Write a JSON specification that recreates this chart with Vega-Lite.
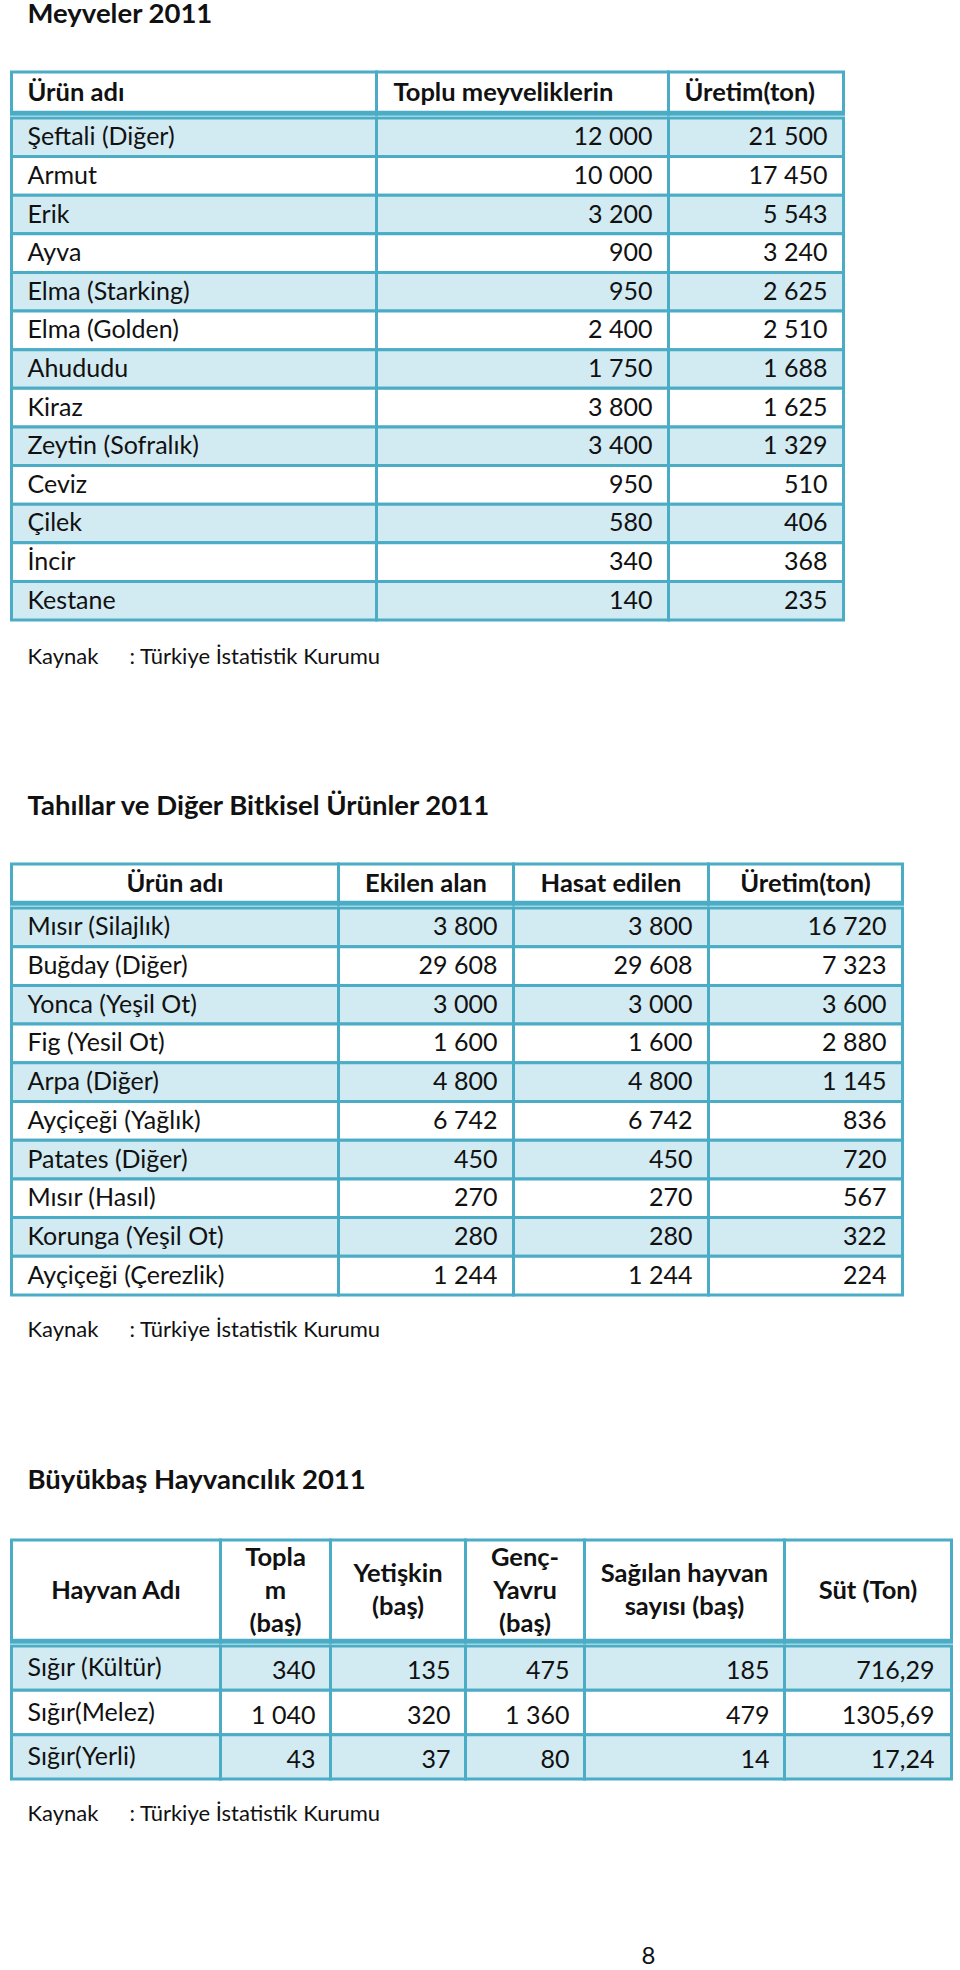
{
  "$schema": "https://vega.github.io/schema/vega-lite/v6.json",
  "padding": {"left": 9.5, "top": 0, "right": 0, "bottom": 0},
  "background": "white",
  "spacing": 0,
  "config": {
    "view": {"stroke": null},
    "text": {"font": "Lato", "fontSize": 25, "color": "#111111", "baseline": "middle"},
    "locale": {"number": {"decimal": ",", "thousands": " ", "grouping": [3], "currency": ["", ""]}}
  },
  "datasets": {
    "meyve": [
      {"no": 1, "urun": "Şeftali (Diğer)", "toplu": 12000, "uretim": 21500},
      {"no": 2, "urun": "Armut", "toplu": 10000, "uretim": 17450},
      {"no": 3, "urun": "Erik", "toplu": 3200, "uretim": 5543},
      {"no": 4, "urun": "Ayva", "toplu": 900, "uretim": 3240},
      {"no": 5, "urun": "Elma (Starking)", "toplu": 950, "uretim": 2625},
      {"no": 6, "urun": "Elma (Golden)", "toplu": 2400, "uretim": 2510},
      {"no": 7, "urun": "Ahududu", "toplu": 1750, "uretim": 1688},
      {"no": 8, "urun": "Kiraz", "toplu": 3800, "uretim": 1625},
      {"no": 9, "urun": "Zeytin (Sofralık)", "toplu": 3400, "uretim": 1329},
      {"no": 10, "urun": "Ceviz", "toplu": 950, "uretim": 510},
      {"no": 11, "urun": "Çilek", "toplu": 580, "uretim": 406},
      {"no": 12, "urun": "İncir", "toplu": 340, "uretim": 368},
      {"no": 13, "urun": "Kestane", "toplu": 140, "uretim": 235}
    ],
    "tahil": [
      {"no": 1, "urun": "Mısır (Silajlık)", "ekilen": 3800, "hasat": 3800, "uretim": 16720},
      {"no": 2, "urun": "Buğday (Diğer)", "ekilen": 29608, "hasat": 29608, "uretim": 7323},
      {"no": 3, "urun": "Yonca (Yeşil Ot)", "ekilen": 3000, "hasat": 3000, "uretim": 3600},
      {"no": 4, "urun": "Fig (Yesil Ot)", "ekilen": 1600, "hasat": 1600, "uretim": 2880},
      {"no": 5, "urun": "Arpa (Diğer)", "ekilen": 4800, "hasat": 4800, "uretim": 1145},
      {"no": 6, "urun": "Ayçiçeği (Yağlık)", "ekilen": 6742, "hasat": 6742, "uretim": 836},
      {"no": 7, "urun": "Patates (Diğer)", "ekilen": 450, "hasat": 450, "uretim": 720},
      {"no": 8, "urun": "Mısır (Hasıl)", "ekilen": 270, "hasat": 270, "uretim": 567},
      {"no": 9, "urun": "Korunga (Yeşil Ot)", "ekilen": 280, "hasat": 280, "uretim": 322},
      {"no": 10, "urun": "Ayçiçeği (Çerezlik)", "ekilen": 1244, "hasat": 1244, "uretim": 224}
    ],
    "hayvan": [
      {"no": 1, "ad": "Sığır (Kültür)", "toplam": 340, "yetiskin": 135, "genc": 475, "sagilan": 185, "sut": 716.29},
      {"no": 2, "ad": "Sığır(Melez)", "toplam": 1040, "yetiskin": 320, "genc": 1360, "sagilan": 479, "sut": 1305.69},
      {"no": 3, "ad": "Sığır(Yerli)", "toplam": 43, "yetiskin": 37, "genc": 80, "sagilan": 14, "sut": 17.24}
    ]
  },
  "vconcat": [
    {"width": 940, "height": 64.2, "data": {"values": [{"t": "Meyveler 2011"}]},
     "layer": [
       {"mark": {"type": "rect", "x": 0, "x2": "width", "y": 0, "y2": "height", "fill": "transparent", "stroke": "transparent", "strokeWidth": 3}, "encoding": {}},
       {"mark": {"type": "text", "align": "left", "x": 0, "dx": 16, "baseline": "alphabetic", "dy": -13.6, "fontSize": 27.5, "fontWeight": "bold"}, "encoding": {"text": {"field": "t"}}}]},
    {"hconcat": [
      {"width": 365, "height": 42.2, "data": {"values": [{"h": "Ürün adı"}]}, "layer": [
        {"mark": {"type": "rect", "x": 0, "x2": "width", "y": 0, "y2": "height", "fill": "#FFFFFF", "stroke": "#4BACC6", "strokeWidth": 3}, "encoding": {}},
        {"mark": {"type": "rect", "x": 0, "x2": "width", "y": 38.7, "y2": "height", "fill": "#4BACC6"}, "encoding": {}},
        {"mark": {"type": "text", "align": "left", "x": 0, "dx": 16, "dy": -0.5, "fontWeight": "bold", "fontSize": 25.5}, "encoding": {"text": {"field": "h"}}}]},
      {"width": 292, "height": 42.2, "data": {"values": [{"h": "Toplu meyveliklerin"}]}, "layer": [
        {"mark": {"type": "rect", "x": 0, "x2": "width", "y": 0, "y2": "height", "fill": "#FFFFFF", "stroke": "#4BACC6", "strokeWidth": 3}, "encoding": {}},
        {"mark": {"type": "rect", "x": 0, "x2": "width", "y": 38.7, "y2": "height", "fill": "#4BACC6"}, "encoding": {}},
        {"mark": {"type": "text", "align": "left", "x": 0, "dx": 17, "dy": -0.5, "fontWeight": "bold", "fontSize": 25.5}, "encoding": {"text": {"field": "h"}}}]},
      {"width": 175, "height": 42.2, "data": {"values": [{"h": "Üretim(ton)"}]}, "layer": [
        {"mark": {"type": "rect", "x": 0, "x2": "width", "y": 0, "y2": "height", "fill": "#FFFFFF", "stroke": "#4BACC6", "strokeWidth": 3}, "encoding": {}},
        {"mark": {"type": "rect", "x": 0, "x2": "width", "y": 38.7, "y2": "height", "fill": "#4BACC6"}, "encoding": {}},
        {"mark": {"type": "text", "align": "left", "x": 0, "dx": 16, "dy": -0.5, "fontWeight": "bold", "fontSize": 25.5}, "encoding": {"text": {"field": "h"}}}]}
    ], "spacing": 0, "bounds": "flush"},
    {"hconcat": [
      {"width": 365, "height": 502, "data": {"name": "meyve"},
       "encoding": {"y": {"field": "no", "type": "ordinal", "axis": null, "scale": {"paddingInner": 0, "paddingOuter": 0}}},
       "layer": [
        {"mark": {"type": "rect", "stroke": "#4BACC6", "strokeWidth": 3}, "encoding": {"fill": {"condition": {"test": "datum.no % 2 === 1", "value": "#D2EAF1"}, "value": "#FFFFFF"}}},
        {"mark": {"type": "text", "align": "left", "x": 0, "dx": 16}, "encoding": {"text": {"field": "urun"}}}]},
      {"width": 292, "height": 502, "data": {"name": "meyve"},
       "encoding": {"y": {"field": "no", "type": "ordinal", "axis": null, "scale": {"paddingInner": 0, "paddingOuter": 0}}},
       "layer": [
        {"mark": {"type": "rect", "stroke": "#4BACC6", "strokeWidth": 3}, "encoding": {"fill": {"condition": {"test": "datum.no % 2 === 1", "value": "#D2EAF1"}, "value": "#FFFFFF"}}},
        {"mark": {"type": "text", "align": "right", "x": "width", "dx": -16}, "encoding": {"text": {"field": "toplu", "type": "quantitative", "format": ",d"}}}]},
      {"width": 175, "height": 502, "data": {"name": "meyve"},
       "encoding": {"y": {"field": "no", "type": "ordinal", "axis": null, "scale": {"paddingInner": 0, "paddingOuter": 0}}},
       "layer": [
        {"mark": {"type": "rect", "stroke": "#4BACC6", "strokeWidth": 3}, "encoding": {"fill": {"condition": {"test": "datum.no % 2 === 1", "value": "#D2EAF1"}, "value": "#FFFFFF"}}},
        {"mark": {"type": "text", "align": "right", "x": "width", "dx": -16}, "encoding": {"text": {"field": "uretim", "type": "quantitative", "format": ",d"}}}]}
    ], "spacing": 0, "bounds": "flush"},
    {"width": 940, "height": 68.4, "data": {"values": [{"k": "Kaynak", "s": ": Türkiye İstatistik Kurumu"}]},
     "layer": [
       {"mark": {"type": "rect", "x": 0, "x2": "width", "y": 0, "y2": "height", "fill": "transparent", "stroke": "transparent", "strokeWidth": 3}, "encoding": {}},
       {"mark": {"type": "text", "align": "left", "x": 0, "dx": 16, "dy": -1, "fontSize": 22}, "encoding": {"text": {"field": "k"}}},
       {"mark": {"type": "text", "align": "left", "x": 0, "dx": 118, "dy": -1, "fontSize": 22}, "encoding": {"text": {"field": "s"}}}]},
    {"width": 940, "height": 164.2, "data": {"values": [{"t": "Tahıllar ve Diğer Bitkisel Ürünler 2011"}]},
     "layer": [
       {"mark": {"type": "rect", "x": 0, "x2": "width", "y": 0, "y2": "height", "fill": "transparent", "stroke": "transparent", "strokeWidth": 3}, "encoding": {}},
       {"mark": {"type": "text", "align": "left", "x": 0, "dx": 16, "baseline": "alphabetic", "dy": 36.5, "fontSize": 27.5, "fontWeight": "bold"}, "encoding": {"text": {"field": "t"}}}]},
    {"hconcat": [
      {"width": 327, "height": 40.2, "data": {"values": [{"h": "Ürün adı"}]}, "layer": [
        {"mark": {"type": "rect", "x": 0, "x2": "width", "y": 0, "y2": "height", "fill": "#FFFFFF", "stroke": "#4BACC6", "strokeWidth": 3}, "encoding": {}},
        {"mark": {"type": "rect", "x": 0, "x2": "width", "y": 36.7, "y2": "height", "fill": "#4BACC6"}, "encoding": {}},
        {"mark": {"type": "text", "align": "center", "dy": -0.5, "fontWeight": "bold", "fontSize": 25.5}, "encoding": {"text": {"field": "h"}}}]},
      {"width": 175, "height": 40.2, "data": {"values": [{"h": "Ekilen alan"}]}, "layer": [
        {"mark": {"type": "rect", "x": 0, "x2": "width", "y": 0, "y2": "height", "fill": "#FFFFFF", "stroke": "#4BACC6", "strokeWidth": 3}, "encoding": {}},
        {"mark": {"type": "rect", "x": 0, "x2": "width", "y": 36.7, "y2": "height", "fill": "#4BACC6"}, "encoding": {}},
        {"mark": {"type": "text", "align": "center", "dy": -0.5, "fontWeight": "bold", "fontSize": 25.5}, "encoding": {"text": {"field": "h"}}}]},
      {"width": 195, "height": 40.2, "data": {"values": [{"h": "Hasat edilen"}]}, "layer": [
        {"mark": {"type": "rect", "x": 0, "x2": "width", "y": 0, "y2": "height", "fill": "#FFFFFF", "stroke": "#4BACC6", "strokeWidth": 3}, "encoding": {}},
        {"mark": {"type": "rect", "x": 0, "x2": "width", "y": 36.7, "y2": "height", "fill": "#4BACC6"}, "encoding": {}},
        {"mark": {"type": "text", "align": "center", "dy": -0.5, "fontWeight": "bold", "fontSize": 25.5}, "encoding": {"text": {"field": "h"}}}]},
      {"width": 194, "height": 40.2, "data": {"values": [{"h": "Üretim(ton)"}]}, "layer": [
        {"mark": {"type": "rect", "x": 0, "x2": "width", "y": 0, "y2": "height", "fill": "#FFFFFF", "stroke": "#4BACC6", "strokeWidth": 3}, "encoding": {}},
        {"mark": {"type": "rect", "x": 0, "x2": "width", "y": 36.7, "y2": "height", "fill": "#4BACC6"}, "encoding": {}},
        {"mark": {"type": "text", "align": "center", "dy": -0.5, "fontWeight": "bold", "fontSize": 25.5}, "encoding": {"text": {"field": "h"}}}]}
    ], "spacing": 0, "bounds": "flush"},
    {"hconcat": [
      {"width": 327, "height": 387, "data": {"name": "tahil"},
       "encoding": {"y": {"field": "no", "type": "ordinal", "axis": null, "scale": {"paddingInner": 0, "paddingOuter": 0}}},
       "layer": [
        {"mark": {"type": "rect", "stroke": "#4BACC6", "strokeWidth": 3}, "encoding": {"fill": {"condition": {"test": "datum.no % 2 === 1", "value": "#D2EAF1"}, "value": "#FFFFFF"}}},
        {"mark": {"type": "text", "align": "left", "x": 0, "dx": 16}, "encoding": {"text": {"field": "urun"}}}]},
      {"width": 175, "height": 387, "data": {"name": "tahil"},
       "encoding": {"y": {"field": "no", "type": "ordinal", "axis": null, "scale": {"paddingInner": 0, "paddingOuter": 0}}},
       "layer": [
        {"mark": {"type": "rect", "stroke": "#4BACC6", "strokeWidth": 3}, "encoding": {"fill": {"condition": {"test": "datum.no % 2 === 1", "value": "#D2EAF1"}, "value": "#FFFFFF"}}},
        {"mark": {"type": "text", "align": "right", "x": "width", "dx": -16}, "encoding": {"text": {"field": "ekilen", "type": "quantitative", "format": ",d"}}}]},
      {"width": 195, "height": 387, "data": {"name": "tahil"},
       "encoding": {"y": {"field": "no", "type": "ordinal", "axis": null, "scale": {"paddingInner": 0, "paddingOuter": 0}}},
       "layer": [
        {"mark": {"type": "rect", "stroke": "#4BACC6", "strokeWidth": 3}, "encoding": {"fill": {"condition": {"test": "datum.no % 2 === 1", "value": "#D2EAF1"}, "value": "#FFFFFF"}}},
        {"mark": {"type": "text", "align": "right", "x": "width", "dx": -16}, "encoding": {"text": {"field": "hasat", "type": "quantitative", "format": ",d"}}}]},
      {"width": 194, "height": 387, "data": {"name": "tahil"},
       "encoding": {"y": {"field": "no", "type": "ordinal", "axis": null, "scale": {"paddingInner": 0, "paddingOuter": 0}}},
       "layer": [
        {"mark": {"type": "rect", "stroke": "#4BACC6", "strokeWidth": 3}, "encoding": {"fill": {"condition": {"test": "datum.no % 2 === 1", "value": "#D2EAF1"}, "value": "#FFFFFF"}}},
        {"mark": {"type": "text", "align": "right", "x": "width", "dx": -16}, "encoding": {"text": {"field": "uretim", "type": "quantitative", "format": ",d"}}}]}
    ], "spacing": 0, "bounds": "flush"},
    {"width": 940, "height": 64.4, "data": {"values": [{"k": "Kaynak", "s": ": Türkiye İstatistik Kurumu"}]},
     "layer": [
       {"mark": {"type": "rect", "x": 0, "x2": "width", "y": 0, "y2": "height", "fill": "transparent", "stroke": "transparent", "strokeWidth": 3}, "encoding": {}},
       {"mark": {"type": "text", "align": "left", "x": 0, "dx": 16, "dy": -1, "fontSize": 22}, "encoding": {"text": {"field": "k"}}},
       {"mark": {"type": "text", "align": "left", "x": 0, "dx": 118, "dy": -1, "fontSize": 22}, "encoding": {"text": {"field": "s"}}}]},
    {"width": 940, "height": 169.2, "data": {"values": [{"t": "Büyükbaş Hayvancılık 2011"}]},
     "layer": [
       {"mark": {"type": "rect", "x": 0, "x2": "width", "y": 0, "y2": "height", "fill": "transparent", "stroke": "transparent", "strokeWidth": 3}, "encoding": {}},
       {"mark": {"type": "text", "align": "left", "x": 0, "dx": 16, "baseline": "alphabetic", "dy": 37, "fontSize": 27.5, "fontWeight": "bold"}, "encoding": {"text": {"field": "t"}}}]},
    {"hconcat": [
      {"width": 209, "height": 102.2, "data": {"values": [{"h": "Hayvan Adı"}]}, "layer": [
        {"mark": {"type": "rect", "x": 0, "x2": "width", "y": 0, "y2": "height", "fill": "#FFFFFF", "stroke": "#4BACC6", "strokeWidth": 3}, "encoding": {}},
        {"mark": {"type": "rect", "x": 0, "x2": "width", "y": 98.7, "y2": "height", "fill": "#4BACC6"}, "encoding": {}},
        {"mark": {"type": "text", "align": "center", "fontWeight": "bold", "fontSize": 25.5, "dy": -0.5}, "encoding": {"text": {"field": "h"}}}]},
      {"width": 110, "height": 102.2, "data": {"values": [{"h": "Topla\nm\n(baş)"}]}, "layer": [
        {"mark": {"type": "rect", "x": 0, "x2": "width", "y": 0, "y2": "height", "fill": "#FFFFFF", "stroke": "#4BACC6", "strokeWidth": 3}, "encoding": {}},
        {"mark": {"type": "rect", "x": 0, "x2": "width", "y": 98.7, "y2": "height", "fill": "#4BACC6"}, "encoding": {}},
        {"mark": {"type": "text", "align": "center", "fontWeight": "bold", "fontSize": 25.5, "lineBreak": "\n", "lineHeight": 33, "dy": -33.5}, "encoding": {"text": {"field": "h"}}}]},
      {"width": 135, "height": 102.2, "data": {"values": [{"h": "Yetişkin\n(baş)"}]}, "layer": [
        {"mark": {"type": "rect", "x": 0, "x2": "width", "y": 0, "y2": "height", "fill": "#FFFFFF", "stroke": "#4BACC6", "strokeWidth": 3}, "encoding": {}},
        {"mark": {"type": "rect", "x": 0, "x2": "width", "y": 98.7, "y2": "height", "fill": "#4BACC6"}, "encoding": {}},
        {"mark": {"type": "text", "align": "center", "fontWeight": "bold", "fontSize": 25.5, "lineBreak": "\n", "lineHeight": 33, "dy": -17}, "encoding": {"text": {"field": "h"}}}]},
      {"width": 119, "height": 102.2, "data": {"values": [{"h": "Genç-\nYavru\n(baş)"}]}, "layer": [
        {"mark": {"type": "rect", "x": 0, "x2": "width", "y": 0, "y2": "height", "fill": "#FFFFFF", "stroke": "#4BACC6", "strokeWidth": 3}, "encoding": {}},
        {"mark": {"type": "rect", "x": 0, "x2": "width", "y": 98.7, "y2": "height", "fill": "#4BACC6"}, "encoding": {}},
        {"mark": {"type": "text", "align": "center", "fontWeight": "bold", "fontSize": 25.5, "lineBreak": "\n", "lineHeight": 33, "dy": -33.5}, "encoding": {"text": {"field": "h"}}}]},
      {"width": 200, "height": 102.2, "data": {"values": [{"h": "Sağılan hayvan\nsayısı (baş)"}]}, "layer": [
        {"mark": {"type": "rect", "x": 0, "x2": "width", "y": 0, "y2": "height", "fill": "#FFFFFF", "stroke": "#4BACC6", "strokeWidth": 3}, "encoding": {}},
        {"mark": {"type": "rect", "x": 0, "x2": "width", "y": 98.7, "y2": "height", "fill": "#4BACC6"}, "encoding": {}},
        {"mark": {"type": "text", "align": "center", "fontWeight": "bold", "fontSize": 25.5, "lineBreak": "\n", "lineHeight": 33, "dy": -17}, "encoding": {"text": {"field": "h"}}}]},
      {"width": 167, "height": 102.2, "data": {"values": [{"h": "Süt (Ton)"}]}, "layer": [
        {"mark": {"type": "rect", "x": 0, "x2": "width", "y": 0, "y2": "height", "fill": "#FFFFFF", "stroke": "#4BACC6", "strokeWidth": 3}, "encoding": {}},
        {"mark": {"type": "rect", "x": 0, "x2": "width", "y": 98.7, "y2": "height", "fill": "#4BACC6"}, "encoding": {}},
        {"mark": {"type": "text", "align": "center", "fontWeight": "bold", "fontSize": 25.5, "dy": -0.5}, "encoding": {"text": {"field": "h"}}}]}
    ], "spacing": 0, "bounds": "flush"},
    {"hconcat": [
      {"width": 209, "height": 133, "data": {"name": "hayvan"},
       "encoding": {"y": {"field": "no", "type": "ordinal", "axis": null, "scale": {"paddingInner": 0, "paddingOuter": 0}}},
       "layer": [
        {"mark": {"type": "rect", "stroke": "#4BACC6", "strokeWidth": 3}, "encoding": {"fill": {"condition": {"test": "datum.no % 2 === 1", "value": "#D2EAF1"}, "value": "#FFFFFF"}}},
        {"mark": {"type": "text", "align": "left", "x": 0, "dx": 16}, "encoding": {"text": {"field": "ad"}}}]},
      {"width": 110, "height": 133, "data": {"name": "hayvan"},
       "encoding": {"y": {"field": "no", "type": "ordinal", "axis": null, "scale": {"paddingInner": 0, "paddingOuter": 0}}},
       "layer": [
        {"mark": {"type": "rect", "stroke": "#4BACC6", "strokeWidth": 3}, "encoding": {"fill": {"condition": {"test": "datum.no % 2 === 1", "value": "#D2EAF1"}, "value": "#FFFFFF"}}},
        {"mark": {"type": "text", "align": "right", "x": "width", "dx": -15, "dy": 3}, "encoding": {"text": {"field": "toplam", "type": "quantitative", "format": ",d"}}}]},
      {"width": 135, "height": 133, "data": {"name": "hayvan"},
       "encoding": {"y": {"field": "no", "type": "ordinal", "axis": null, "scale": {"paddingInner": 0, "paddingOuter": 0}}},
       "layer": [
        {"mark": {"type": "rect", "stroke": "#4BACC6", "strokeWidth": 3}, "encoding": {"fill": {"condition": {"test": "datum.no % 2 === 1", "value": "#D2EAF1"}, "value": "#FFFFFF"}}},
        {"mark": {"type": "text", "align": "right", "x": "width", "dx": -15, "dy": 3}, "encoding": {"text": {"field": "yetiskin", "type": "quantitative", "format": ",d"}}}]},
      {"width": 119, "height": 133, "data": {"name": "hayvan"},
       "encoding": {"y": {"field": "no", "type": "ordinal", "axis": null, "scale": {"paddingInner": 0, "paddingOuter": 0}}},
       "layer": [
        {"mark": {"type": "rect", "stroke": "#4BACC6", "strokeWidth": 3}, "encoding": {"fill": {"condition": {"test": "datum.no % 2 === 1", "value": "#D2EAF1"}, "value": "#FFFFFF"}}},
        {"mark": {"type": "text", "align": "right", "x": "width", "dx": -15, "dy": 3}, "encoding": {"text": {"field": "genc", "type": "quantitative", "format": ",d"}}}]},
      {"width": 200, "height": 133, "data": {"name": "hayvan"},
       "encoding": {"y": {"field": "no", "type": "ordinal", "axis": null, "scale": {"paddingInner": 0, "paddingOuter": 0}}},
       "layer": [
        {"mark": {"type": "rect", "stroke": "#4BACC6", "strokeWidth": 3}, "encoding": {"fill": {"condition": {"test": "datum.no % 2 === 1", "value": "#D2EAF1"}, "value": "#FFFFFF"}}},
        {"mark": {"type": "text", "align": "right", "x": "width", "dx": -15, "dy": 3}, "encoding": {"text": {"field": "sagilan", "type": "quantitative", "format": ",d"}}}]},
      {"width": 167, "height": 133, "data": {"name": "hayvan"},
       "encoding": {"y": {"field": "no", "type": "ordinal", "axis": null, "scale": {"paddingInner": 0, "paddingOuter": 0}}},
       "layer": [
        {"mark": {"type": "rect", "stroke": "#4BACC6", "strokeWidth": 3}, "encoding": {"fill": {"condition": {"test": "datum.no % 2 === 1", "value": "#D2EAF1"}, "value": "#FFFFFF"}}},
        {"mark": {"type": "text", "align": "right", "x": "width", "dx": -17, "dy": 3}, "encoding": {"text": {"field": "sut", "type": "quantitative", "format": ".2f"}}}]}
    ], "spacing": 0, "bounds": "flush"},
    {"width": 940, "height": 64.4, "data": {"values": [{"k": "Kaynak", "s": ": Türkiye İstatistik Kurumu"}]},
     "layer": [
       {"mark": {"type": "rect", "x": 0, "x2": "width", "y": 0, "y2": "height", "fill": "transparent", "stroke": "transparent", "strokeWidth": 3}, "encoding": {}},
       {"mark": {"type": "text", "align": "left", "x": 0, "dx": 16, "dy": -1, "fontSize": 22}, "encoding": {"text": {"field": "k"}}},
       {"mark": {"type": "text", "align": "left", "x": 0, "dx": 118, "dy": -1, "fontSize": 22}, "encoding": {"text": {"field": "s"}}}]},
    {"width": 940, "height": 143, "data": {"values": [{"p": "8"}]},
     "layer": [
       {"mark": {"type": "rect", "x": 0, "x2": "width", "y": 0, "y2": "height", "fill": "transparent", "stroke": "transparent", "strokeWidth": 3}, "encoding": {}},
       {"mark": {"type": "text", "align": "center", "dx": 167, "dy": 34, "fontSize": 24}, "encoding": {"text": {"field": "p"}}}]}
  ]
}
